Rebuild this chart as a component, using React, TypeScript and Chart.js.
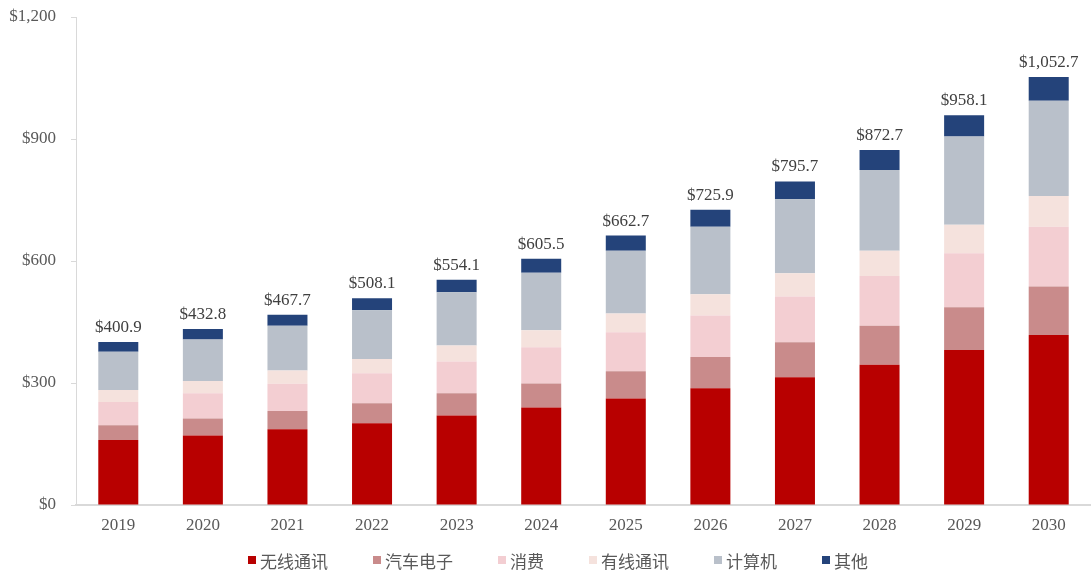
import React, { useEffect, useRef } from "react";
import { Chart, registerables } from "chart.js";

Chart.register(...registerables);

const years = ["2019", "2020", "2021", "2022", "2023", "2024", "2025", "2026", "2027", "2028", "2029", "2030"];
const wireless = [160, 171, 186, 201, 220, 240, 262, 287, 314, 345, 381, 418];
const automotive = [36, 42, 45, 49, 55, 59, 67, 77, 86, 96, 105, 119];
const consumer = [57, 62, 67, 74, 78, 89, 96, 102, 113, 122, 133, 147];
const wired = [30, 30, 33, 35, 39, 42, 46, 52, 57, 62, 70, 76];
const computing = [94, 102, 110, 120, 131, 141, 154, 166, 182, 199, 217, 234];
const other = [23.9, 25.8, 26.7, 29.1, 31.1, 34.5, 37.7, 41.9, 43.7, 48.7, 52.1, 58.7];
const totals = [400.9, 432.8, 467.7, 508.1, 554.1, 605.5, 662.7, 725.9, 795.7, 872.7, 958.1, 1052.7];
const yTicks = [0, 300, 600, 900, 1200];

const seriesNames = ["无线通讯", "汽车电子", "消费", "有线通讯", "计算机", "其他"];
const seriesColors = ["#B80000", "#C98B8B", "#F3CED2", "#F5E2DD", "#B9C0CA", "#24437A"];
const seriesData = [wireless, automotive, consumer, wired, computing, other];

const fmtMoney = (v: number, dec: number) =>
  "$" + v.toLocaleString("en-US", { minimumFractionDigits: dec, maximumFractionDigits: dec });

const totalLabelPlugin = {
  id: "totalLabels",
  afterDatasetsDraw(chart: any) {
    const ctx = chart.ctx;
    const meta = chart.getDatasetMeta(chart.data.datasets.length - 1);
    ctx.save();
    ctx.font = "17px 'Liberation Serif', 'Times New Roman', serif";
    ctx.fillStyle = "#404040";
    ctx.textAlign = "center";
    ctx.textBaseline = "alphabetic";
    meta.data.forEach((el: any, i: number) => {
      ctx.fillText(fmtMoney(totals[i], 1), el.x, el.y - 10);
    });
    ctx.restore();
  },
};

export default function App() {
  const canvasRef = useRef<HTMLCanvasElement | null>(null);

  useEffect(() => {
    if (!canvasRef.current) return;
    const chart = new Chart(canvasRef.current, {
      type: "bar",
      data: {
        labels: years,
        datasets: seriesNames.map((name, i) => ({
          label: name,
          data: seriesData[i],
          backgroundColor: seriesColors[i],
          borderWidth: 0,
          categoryPercentage: 1,
          barPercentage: 0.473,
        })),
      },
      options: {
        animation: false,
        responsive: true,
        maintainAspectRatio: false,
        layout: { padding: { top: 17, right: 0, left: 0, bottom: 0 } },
        plugins: {
          legend: { display: false },
          tooltip: { enabled: false },
        },
        scales: {
          x: {
            stacked: true,
            grid: { display: false, drawTicks: false },
            border: { display: true, color: "#D9D9D9", width: 2 },
            ticks: {
              color: "#595959",
              padding: 10,
              font: { family: "'Liberation Serif', 'Times New Roman', serif", size: 17 },
            },
            afterFit(scale: any) {
              scale.height = 66;
            },
          },
          y: {
            stacked: true,
            min: 0,
            max: 1200,
            afterBuildTicks(scale: any) {
              scale.ticks = yTicks.map((v) => ({ value: v }));
            },
            grid: { drawOnChartArea: false, drawTicks: true, tickLength: 5, color: "#D9D9D9" },
            border: { display: true, color: "#D9D9D9", width: 1 },
            ticks: {
              color: "#595959",
              padding: 15,
              font: { family: "'Liberation Serif', 'Times New Roman', serif", size: 17 },
              callback: (v: any) => fmtMoney(Number(v), 0),
            },
            afterFit(scale: any) {
              scale.width = 76;
              scale.paddingTop = 0;
              scale.paddingBottom = 0;
            },
          },
        },
      },
      plugins: [totalLabelPlugin],
    });
    return () => chart.destroy();
  }, []);

  return (
    <div style={{ position: "fixed", left: 0, top: 0, width: 1091, height: 571, background: "#fff" }}>
      <canvas ref={canvasRef} />
      <div
        style={{
          position: "absolute",
          left: 248,
          top: 551,
          height: 18,
          display: "flex",
          alignItems: "center",
          fontFamily: "'Noto Sans CJK SC', sans-serif",
          fontSize: 17,
          lineHeight: 1,
          color: "#595959",
          whiteSpace: "nowrap",
        }}
      >
        {seriesNames.map((name, i) => (
          <div key={name} style={{ display: "flex", alignItems: "center", marginRight: 45 }}>
            <span style={{ display: "inline-block", width: 8, height: 8, background: seriesColors[i], marginRight: 4 }} />
            <span>{name}</span>
          </div>
        ))}
      </div>
    </div>
  );
}
